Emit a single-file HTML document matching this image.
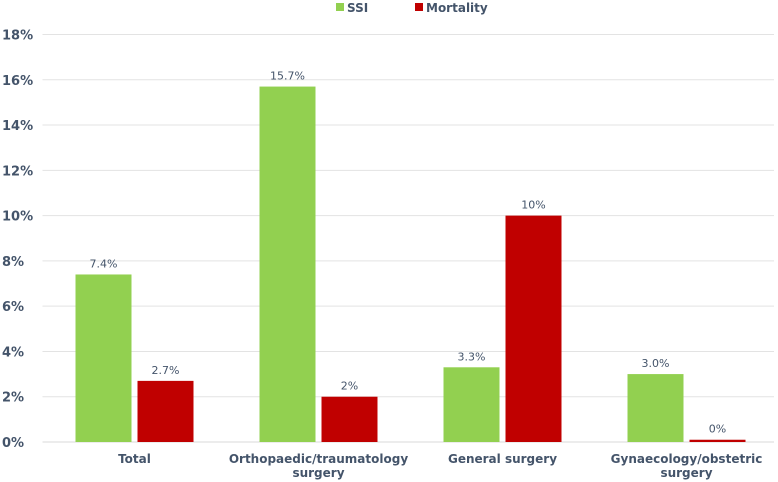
<!DOCTYPE html>
<html><head><meta charset="utf-8"><style>
body{margin:0;background:#fff;}
svg{display:block;font-family:"DejaVu Sans","Liberation Sans",sans-serif;}
</style></head><body>
<svg id="chart" width="778" height="482">
<g>
<rect x="336" y="3" width="8" height="8" fill="#92d050"/>
<text x="347" y="12" font-size="12" font-weight="bold" fill="#44546a">SSI</text>
<rect x="415" y="3" width="8" height="8" fill="#c00000"/>
<text x="426" y="12" font-size="12" font-weight="bold" fill="#44546a">Mortality</text>
</g>
</svg>
<script>
const categories=[["Total"],["Orthopaedic/traumatology","surgery"],["General surgery"],["Gynaecology/obstetric","surgery"]];
const ssiValues=[7.4,15.7,3.3,3.0];
const mortalityValues=[2.7,2,10,0.1];
const ssiLabels=["7.4%","15.7%","3.3%","3.0%"];
const mortalityLabels=["2.7%","2%","10%","0%"];
const yTicks=[0,2,4,6,8,10,12,14,16,18];

const svgEl=document.getElementById('chart');
const NS='http://www.w3.org/2000/svg';
const plotLeft=42.5,plotRight=778.5,plotTop=34.5,plotBottom=442;
const gridRight=774;
const yMax=18;
const yScale=v=>plotBottom-(v/yMax)*(plotBottom-plotTop);
const band=(plotRight-plotLeft)/categories.length;
const cx=i=>plotLeft+band*(i+0.5);
const bw=56,gap=6;
function mk(tag,attrs){const e=document.createElementNS(NS,tag);for(const k in attrs)e.setAttribute(k,attrs[k]);svgEl.appendChild(e);return e;}
yTicks.forEach(t=>{
  const l=mk('line',{x1:plotLeft,x2:gridRight,y1:yScale(t),y2:yScale(t),stroke:t===0?'#d9d9d9':'#e3e3e3','stroke-width':1});
  
  
  const tx=mk('text',{x:2,y:yScale(t)+5,'font-size':13,'font-weight':'bold',fill:'#44546a'});
  tx.textContent=t+'%';
  
  
});
categories.forEach((c,i)=>{
  const xs=cx(i)-gap/2-bw, xm=cx(i)+gap/2;
  const b1=mk('rect',{x:xs,y:yScale(ssiValues[i]),width:bw,height:plotBottom-yScale(ssiValues[i]),fill:'#92d050'});
  
  
  const b2=mk('rect',{x:xm,y:yScale(mortalityValues[i]),width:bw,height:plotBottom-yScale(mortalityValues[i]),fill:'#c00000'});
  
  
  const l1=mk('text',{x:xs+bw/2,y:yScale(ssiValues[i])-7,'font-size':11,fill:'#44546a','text-anchor':'middle'});
  l1.textContent=ssiLabels[i];
  
  
  const l2=mk('text',{x:xm+bw/2,y:yScale(mortalityValues[i])-7,'font-size':11,fill:'#44546a','text-anchor':'middle'});
  l2.textContent=mortalityLabels[i];
  
  
  c.forEach((line,j)=>{
    const t=mk('text',{x:cx(i),y:463+j*14,'font-size':12,'font-weight':'bold',fill:'#44546a','text-anchor':'middle'});
    t.textContent=line;
    
    
  });
});
</script>
</body></html>
